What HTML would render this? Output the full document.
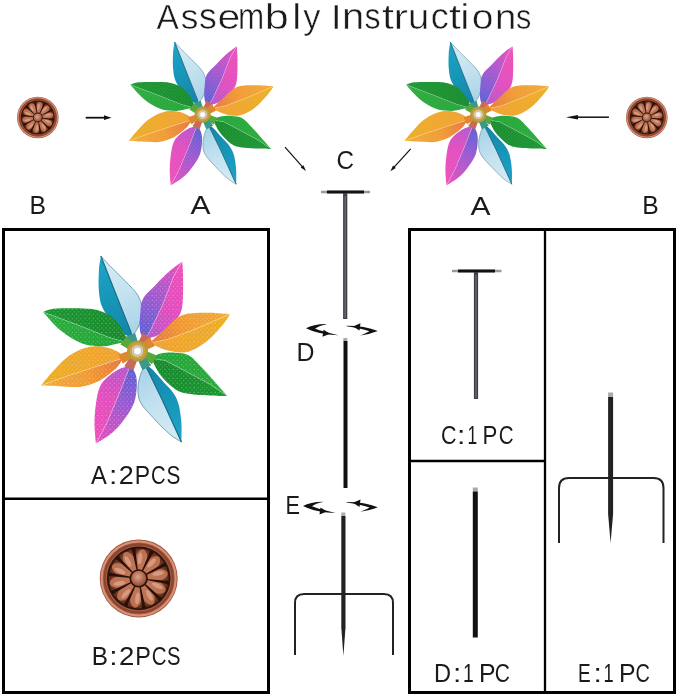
<!DOCTYPE html>
<html><head><meta charset="utf-8"><style>
html,body{margin:0;padding:0;background:#fff;}
svg{display:block;will-change:transform;filter:blur(0.3px);}
</style></head><body>
<svg width="679" height="697" viewBox="0 0 679 697">
<defs>
<linearGradient id="gBlueD" x1="0" y1="0" x2="1" y2="0"><stop offset="0" stop-color="#1486aa"/><stop offset="0.5" stop-color="#1796b8"/><stop offset="1" stop-color="#1ea2c8"/></linearGradient>
<pattern id="spark" width="4.2" height="4.6" patternUnits="userSpaceOnUse"><circle cx="1" cy="1.2" r="0.55" fill="#fff" opacity="0.55"/><circle cx="3.1" cy="3.5" r="0.5" fill="#fff" opacity="0.45"/></pattern>
<linearGradient id="gBlueL" x1="0" y1="0" x2="1" y2="0"><stop offset="0" stop-color="#a8d4ea"/><stop offset="0.5" stop-color="#c6e2f0"/><stop offset="1" stop-color="#d4eaf4"/></linearGradient>
<linearGradient id="gPurp" x1="0" y1="0" x2="1" y2="0"><stop offset="0" stop-color="#5e60d4"/><stop offset="0.45" stop-color="#9a58d0"/><stop offset="1" stop-color="#ea4cbc"/></linearGradient>
<linearGradient id="gMag" x1="0" y1="0" x2="1" y2="0"><stop offset="0" stop-color="#b056cc"/><stop offset="0.4" stop-color="#e04cbe"/><stop offset="1" stop-color="#ee4eb8"/></linearGradient>
<linearGradient id="gOrU" x1="0" y1="0" x2="1" y2="0"><stop offset="0" stop-color="#e8783c"/><stop offset="0.45" stop-color="#f09a32"/><stop offset="1" stop-color="#f2aa34"/></linearGradient>
<linearGradient id="gOrL" x1="0" y1="0" x2="1" y2="0"><stop offset="0" stop-color="#f09a30"/><stop offset="1" stop-color="#ecac22"/></linearGradient>
<linearGradient id="gGrD" x1="0" y1="0" x2="1" y2="0"><stop offset="0" stop-color="#168a2c"/><stop offset="1" stop-color="#1a9630"/></linearGradient>
<linearGradient id="gGrL" x1="0" y1="0" x2="1" y2="0"><stop offset="0" stop-color="#22a436"/><stop offset="1" stop-color="#2aac3c"/></linearGradient>
<radialGradient id="gPet" cx="0.5" cy="0.4" r="0.7"><stop offset="0" stop-color="#e0a080"/><stop offset="1" stop-color="#9a5a40"/></radialGradient>
<radialGradient id="gRosIn" cx="0.5" cy="0.5" r="0.5"><stop offset="0" stop-color="#b86c4c"/><stop offset="0.65" stop-color="#9a5236"/><stop offset="1" stop-color="#5e2a1a"/></radialGradient>
<radialGradient id="gBoss" cx="0.45" cy="0.4" r="0.65"><stop offset="0" stop-color="#e0a488"/><stop offset="1" stop-color="#8a4430"/></radialGradient>

<linearGradient id="blueTop_a" gradientUnits="userSpaceOnUse" x1="131.5" y1="337.3" x2="100.9" y2="256.1"><stop offset="0" stop-color="#1484a8"/><stop offset="0.5" stop-color="#1796b8"/><stop offset="1" stop-color="#1ea4c8"/></linearGradient>
<linearGradient id="blueTop_b" gradientUnits="userSpaceOnUse" x1="131.5" y1="337.3" x2="100.9" y2="256.1"><stop offset="0" stop-color="#a6d2e8"/><stop offset="0.5" stop-color="#c4e2f0"/><stop offset="1" stop-color="#d6ecf6"/></linearGradient>
<linearGradient id="pinkUR_a" gradientUnits="userSpaceOnUse" x1="145.5" y1="338" x2="182.3" y2="261.5"><stop offset="0" stop-color="#5a5ed2"/><stop offset="0.45" stop-color="#9a58d0"/><stop offset="1" stop-color="#ea4cbc"/></linearGradient>
<linearGradient id="pinkUR_b" gradientUnits="userSpaceOnUse" x1="145.5" y1="338" x2="182.3" y2="261.5"><stop offset="0" stop-color="#b056cc"/><stop offset="0.4" stop-color="#e04cbe"/><stop offset="1" stop-color="#ee4eb8"/></linearGradient>
<linearGradient id="orR_a" gradientUnits="userSpaceOnUse" x1="150" y1="343" x2="230.2" y2="314.1"><stop offset="0" stop-color="#e8743c"/><stop offset="0.45" stop-color="#f09a32"/><stop offset="1" stop-color="#f2aa34"/></linearGradient>
<linearGradient id="orR_b" gradientUnits="userSpaceOnUse" x1="150" y1="343" x2="230.2" y2="314.1"><stop offset="0" stop-color="#f0a030"/><stop offset="1" stop-color="#ecae22"/></linearGradient>
<linearGradient id="grLR_a" gradientUnits="userSpaceOnUse" x1="152" y1="358.5" x2="227.4" y2="396.1"><stop offset="0" stop-color="#22a436"/><stop offset="1" stop-color="#2aac3c"/></linearGradient>
<linearGradient id="grLR_b" gradientUnits="userSpaceOnUse" x1="152" y1="358.5" x2="227.4" y2="396.1"><stop offset="0" stop-color="#168a2c"/><stop offset="1" stop-color="#1a9630"/></linearGradient>
<linearGradient id="blueBot_a" gradientUnits="userSpaceOnUse" x1="145.5" y1="365.5" x2="181.4" y2="442"><stop offset="0" stop-color="#1484a8"/><stop offset="0.5" stop-color="#1796b8"/><stop offset="1" stop-color="#1ea4c8"/></linearGradient>
<linearGradient id="blueBot_b" gradientUnits="userSpaceOnUse" x1="145.5" y1="365.5" x2="181.4" y2="442"><stop offset="0" stop-color="#a6d2e8"/><stop offset="0.5" stop-color="#c4e2f0"/><stop offset="1" stop-color="#d6ecf6"/></linearGradient>
<linearGradient id="pinkLL_a" gradientUnits="userSpaceOnUse" x1="130" y1="366" x2="95.9" y2="443.6"><stop offset="0" stop-color="#5a5ed2"/><stop offset="0.45" stop-color="#9a58d0"/><stop offset="1" stop-color="#ea4cbc"/></linearGradient>
<linearGradient id="pinkLL_b" gradientUnits="userSpaceOnUse" x1="130" y1="366" x2="95.9" y2="443.6"><stop offset="0" stop-color="#b056cc"/><stop offset="0.4" stop-color="#e04cbe"/><stop offset="1" stop-color="#ee4eb8"/></linearGradient>
<linearGradient id="orL_a" gradientUnits="userSpaceOnUse" x1="123" y1="358" x2="40.8" y2="385.5"><stop offset="0" stop-color="#e8743c"/><stop offset="0.45" stop-color="#f09a32"/><stop offset="1" stop-color="#f2aa34"/></linearGradient>
<linearGradient id="orL_b" gradientUnits="userSpaceOnUse" x1="123" y1="358" x2="40.8" y2="385.5"><stop offset="0" stop-color="#f0a030"/><stop offset="1" stop-color="#ecae22"/></linearGradient>
<linearGradient id="grUL_a" gradientUnits="userSpaceOnUse" x1="125.5" y1="342" x2="43.1" y2="311.9"><stop offset="0" stop-color="#22a436"/><stop offset="1" stop-color="#2aac3c"/></linearGradient>
<linearGradient id="grUL_b" gradientUnits="userSpaceOnUse" x1="125.5" y1="342" x2="43.1" y2="311.9"><stop offset="0" stop-color="#168a2c"/><stop offset="1" stop-color="#1a9630"/></linearGradient></defs>
<rect width="679" height="697" fill="#fff"/>
<rect x="3.5" y="229.5" width="265" height="463" fill="none" stroke="#000" stroke-width="3"/>
<path d="M3 498.8H268" stroke="#000" stroke-width="2.5"/>
<rect x="409.5" y="229.5" width="265" height="463" fill="none" stroke="#000" stroke-width="3"/>
<path d="M545 229V692" stroke="#000" stroke-width="2.3"/>
<path d="M409 461H545" stroke="#000" stroke-width="2.3"/>
<g id="pw"><path d="M100.9 256.1C100.6 258.5 99.2 264.7 98.9 270.5C98.6 276.3 98.3 284.8 98.9 290.9C99.5 297 99.9 301.9 102.3 307.3C104.7 312.8 109.8 319.3 113.2 323.6C116.6 327.9 119.7 330.9 122.7 333.2C125.8 335.5 130 336.6 131.5 337.3L130.9 331.8 L117.3 297.7 L100.9 256.1Z" fill="url(#blueTop_a)"/>
<path d="M100.9 256.1C102.5 257.8 106.4 262.2 110.5 266.4C114.6 270.6 121 276.6 125.5 281.4C130 286.2 135 290.5 137.7 295C140.4 299.5 141.6 303.6 141.8 308.6C142 313.6 140.5 320.7 139.1 325C137.7 329.3 134.9 332.4 133.6 334.5C132.3 336.6 131.8 336.8 131.5 337.3L130.9 331.8 L117.3 297.7 L100.9 256.1Z" fill="url(#blueTop_b)" stroke="#557f90" stroke-width="0.7"/>
<path d="M100.9 256.1L117.3 297.7 L130.9 331.8 L131.5 337.3" fill="none" stroke="#136e88" stroke-width="1.1"/>
<path d="M181.4 442C181.4 438.9 181.8 429.8 181.4 423.6C181 417.5 180.1 410.2 178.8 405.1C177.5 400 176.1 397.1 173.5 393.2C170.9 389.2 166.5 385.3 163 381.4C159.5 377.4 155 372.1 152.4 369.5C149.8 366.9 148.7 366.7 147.5 366C146.3 365.3 145.8 365.6 145.5 365.5L161.6 398.5 L181.4 442Z" fill="url(#blueBot_a)"/>
<path d="M181.4 442C179.4 440.7 174.2 438.1 169.6 434.1C165 430.2 158.5 423.6 153.7 418.3C148.8 413 143.1 407.6 140.5 402.5C137.9 397.4 137.9 392.6 137.9 388C137.9 383.4 139.5 378.3 140.5 374.8C141.5 371.3 143.2 368.6 144 367C144.8 365.4 145.2 365.8 145.5 365.5L161.6 398.5 L181.4 442Z" fill="url(#blueBot_b)" stroke="#557f90" stroke-width="0.7"/>
<path d="M181.4 442L161.6 398.5 L145.5 365.5" fill="none" stroke="#136e88" stroke-width="1.1"/>
<path d="M182.3 261.5C180.1 263.2 173.2 267.9 168.8 271.8C164.4 275.7 160.1 280.2 155.8 284.7C151.5 289.2 145.5 294.1 142.9 298.9C140.3 303.6 140.8 308.4 140.3 313.2C139.8 317.9 139.5 323.7 139.7 327.4C139.9 331.1 140.5 333.7 141.5 335.5C142.5 337.3 144.8 337.6 145.5 338L149.4 332.5 L162.3 305.4 L173.9 275.7 L182.3 261.5Z" fill="url(#pinkUR_a)"/>
<path d="M182.3 261.5C180.1 263.2 173.2 267.9 168.8 271.8C164.4 275.7 160.1 280.2 155.8 284.7C151.5 289.2 145.5 294.1 142.9 298.9C140.3 303.6 140.8 308.4 140.3 313.2C139.8 317.9 139.5 323.7 139.7 327.4C139.9 331.1 140.5 333.7 141.5 335.5C142.5 337.3 144.8 337.6 145.5 338L149.4 332.5 L162.3 305.4 L173.9 275.7 L182.3 261.5Z" fill="url(#spark)"/>
<path d="M182.3 261.5C182.4 263.6 182.9 269 183 274.4C183.1 279.8 183.2 288 183 293.8C182.8 299.6 182.8 305 181.7 309.3C180.6 313.6 179.1 316.2 176.5 319.6C173.9 323.1 169.6 327.2 166 330C162.4 332.8 158.4 335.2 155 336.5C151.6 337.8 147.1 337.8 145.5 338L149.4 332.5 L162.3 305.4 L173.9 275.7 L182.3 261.5Z" fill="url(#pinkUR_b)"/>
<path d="M182.3 261.5C182.4 263.6 182.9 269 183 274.4C183.1 279.8 183.2 288 183 293.8C182.8 299.6 182.8 305 181.7 309.3C180.6 313.6 179.1 316.2 176.5 319.6C173.9 323.1 169.6 327.2 166 330C162.4 332.8 158.4 335.2 155 336.5C151.6 337.8 147.1 337.8 145.5 338L149.4 332.5 L162.3 305.4 L173.9 275.7 L182.3 261.5Z" fill="url(#spark)"/>
<path d="M182.3 261.5L173.9 275.7 L162.3 305.4 L149.4 332.5 L145.5 338" fill="none" stroke="rgba(255,255,255,0.3)" stroke-width="0.9"/>
<path d="M95.9 443.6C98.6 441.8 107.5 436.8 112.3 432.7C117.1 428.6 120.9 424.1 124.5 419.1C128.1 414.1 132 408.4 134.1 402.7C136.2 397 136.6 389.8 136.8 385C137 380.2 136.4 377.1 135.5 374.1C134.6 371.2 132.3 368.7 131.4 367.3C130.5 365.9 130.2 366.2 130 366L120.5 390.5 L106.8 423.2 L95.9 443.6Z" fill="url(#pinkLL_a)"/>
<path d="M95.9 443.6C98.6 441.8 107.5 436.8 112.3 432.7C117.1 428.6 120.9 424.1 124.5 419.1C128.1 414.1 132 408.4 134.1 402.7C136.2 397 136.6 389.8 136.8 385C137 380.2 136.4 377.1 135.5 374.1C134.6 371.2 132.3 368.7 131.4 367.3C130.5 365.9 130.2 366.2 130 366L120.5 390.5 L106.8 423.2 L95.9 443.6Z" fill="url(#spark)"/>
<path d="M95.9 443.6C95.7 440.2 94.5 429.8 94.5 423.2C94.5 416.6 95 410.2 95.9 404.1C96.8 398 97.7 391.2 100 386.4C102.3 381.6 106.1 378.5 109.5 375.5C112.9 372.5 117.4 370.1 120.5 368.6C123.6 367.1 126.4 366.9 128 366.5C129.6 366.1 129.7 366.1 130 366L120.5 390.5 L106.8 423.2 L95.9 443.6Z" fill="url(#pinkLL_b)"/>
<path d="M95.9 443.6C95.7 440.2 94.5 429.8 94.5 423.2C94.5 416.6 95 410.2 95.9 404.1C96.8 398 97.7 391.2 100 386.4C102.3 381.6 106.1 378.5 109.5 375.5C112.9 372.5 117.4 370.1 120.5 368.6C123.6 367.1 126.4 366.9 128 366.5C129.6 366.1 129.7 366.1 130 366L120.5 390.5 L106.8 423.2 L95.9 443.6Z" fill="url(#spark)"/>
<path d="M95.9 443.6L106.8 423.2 L120.5 390.5 L130 366" fill="none" stroke="rgba(255,255,255,0.3)" stroke-width="0.9"/>
<path d="M230.2 314.1C226.8 313.9 216.9 312.8 210 312.7C203.1 312.6 194.5 312.5 189 313.4C183.5 314.3 180.8 315.6 177 318C173.2 320.4 169.5 324.8 166 328C162.5 331.2 158.7 334.5 156 337C153.3 339.5 151 342 150 343L168 339.3 L196 328.8 L230.2 314.1Z" fill="url(#orR_a)"/>
<path d="M230.2 314.1C226.8 313.9 216.9 312.8 210 312.7C203.1 312.6 194.5 312.5 189 313.4C183.5 314.3 180.8 315.6 177 318C173.2 320.4 169.5 324.8 166 328C162.5 331.2 158.7 334.5 156 337C153.3 339.5 151 342 150 343L168 339.3 L196 328.8 L230.2 314.1Z" fill="url(#spark)"/>
<path d="M230.2 314.1C229.2 315.6 227.4 319.1 224 323.2C220.6 327.3 214.7 334.4 210 338.6C205.3 342.8 200.7 346.1 196 348.4C191.3 350.7 187.1 352.4 182 352.6C176.9 352.8 169.9 351.1 165.2 349.8C160.5 348.5 156.5 346.1 154 345C151.5 343.9 150.7 343.3 150 343L168 339.3 L196 328.8 L230.2 314.1Z" fill="url(#orR_b)"/>
<path d="M230.2 314.1C229.2 315.6 227.4 319.1 224 323.2C220.6 327.3 214.7 334.4 210 338.6C205.3 342.8 200.7 346.1 196 348.4C191.3 350.7 187.1 352.4 182 352.6C176.9 352.8 169.9 351.1 165.2 349.8C160.5 348.5 156.5 346.1 154 345C151.5 343.9 150.7 343.3 150 343L168 339.3 L196 328.8 L230.2 314.1Z" fill="url(#spark)"/>
<path d="M230.2 314.1L196 328.8 L168 339.3 L150 343" fill="none" stroke="rgba(255,255,255,0.3)" stroke-width="0.9"/>
<path d="M40.8 385.5C43.8 385.6 52.5 386 59 386.2C65.5 386.4 73.7 387.6 80 386.9C86.3 386.2 92.1 384 96.8 382C101.5 380 104.5 377.6 108 375C111.5 372.4 115.3 369.4 117.8 366.6C120.3 363.8 122.1 359.4 123 358L120.6 358.9 L94 367.3 L66 376.4 L40.8 385.5Z" fill="url(#orL_a)"/>
<path d="M40.8 385.5C43.8 385.6 52.5 386 59 386.2C65.5 386.4 73.7 387.6 80 386.9C86.3 386.2 92.1 384 96.8 382C101.5 380 104.5 377.6 108 375C111.5 372.4 115.3 369.4 117.8 366.6C120.3 363.8 122.1 359.4 123 358L120.6 358.9 L94 367.3 L66 376.4 L40.8 385.5Z" fill="url(#spark)"/>
<path d="M40.8 385.5C42.7 383.3 47.8 376.8 52 372.2C56.2 367.6 61.3 361.9 66 358.2C70.7 354.5 75.3 351.8 80 349.8C84.7 347.8 89.3 346.7 94 346.3C98.7 345.9 103.8 346.6 108 347.7C112.2 348.8 116.7 350.9 119.2 352.6C121.7 354.3 122.4 357.1 123 358L120.6 358.9 L94 367.3 L66 376.4 L40.8 385.5Z" fill="url(#orL_b)"/>
<path d="M40.8 385.5C42.7 383.3 47.8 376.8 52 372.2C56.2 367.6 61.3 361.9 66 358.2C70.7 354.5 75.3 351.8 80 349.8C84.7 347.8 89.3 346.7 94 346.3C98.7 345.9 103.8 346.6 108 347.7C112.2 348.8 116.7 350.9 119.2 352.6C121.7 354.3 122.4 357.1 123 358L120.6 358.9 L94 367.3 L66 376.4 L40.8 385.5Z" fill="url(#spark)"/>
<path d="M40.8 385.5L66 376.4 L94 367.3 L120.6 358.9 L123 358" fill="none" stroke="rgba(255,255,255,0.3)" stroke-width="0.9"/>
<path d="M227.4 396.1C225.4 393.9 219.7 387.4 215.6 382.8C211.5 378.2 207.4 373.4 203 368.8C198.6 364.2 193.7 358.2 189 355.5C184.3 352.8 179.7 353.1 175 352.7C170.3 352.3 164.5 352.8 161 353.4C157.5 354 155.5 355.6 154 356.5C152.5 357.4 152.3 358.2 152 358.5L165.2 360.4 L186.2 371.6 L210 384.2 L227.4 396.1Z" fill="url(#grLR_a)"/>
<path d="M227.4 396.1C225.4 393.9 219.7 387.4 215.6 382.8C211.5 378.2 207.4 373.4 203 368.8C198.6 364.2 193.7 358.2 189 355.5C184.3 352.8 179.7 353.1 175 352.7C170.3 352.3 164.5 352.8 161 353.4C157.5 354 155.5 355.6 154 356.5C152.5 357.4 152.3 358.2 152 358.5L165.2 360.4 L186.2 371.6 L210 384.2 L227.4 396.1Z" fill="url(#spark)"/>
<path d="M227.4 396.1C224.5 396 215.2 395.6 210 395.4C204.8 395.2 200.7 395.2 196 394.7C191.3 394.2 186 393.9 182 392.6C178 391.3 175.7 389.8 172.2 387C168.7 384.2 163.9 379.5 161 375.8C158.1 372.1 156 367.9 154.5 365C153 362.1 152.4 359.6 152 358.5L165.2 360.4 L186.2 371.6 L210 384.2 L227.4 396.1Z" fill="url(#grLR_b)"/>
<path d="M227.4 396.1C224.5 396 215.2 395.6 210 395.4C204.8 395.2 200.7 395.2 196 394.7C191.3 394.2 186 393.9 182 392.6C178 391.3 175.7 389.8 172.2 387C168.7 384.2 163.9 379.5 161 375.8C158.1 372.1 156 367.9 154.5 365C153 362.1 152.4 359.6 152 358.5L165.2 360.4 L186.2 371.6 L210 384.2 L227.4 396.1Z" fill="url(#spark)"/>
<path d="M227.4 396.1L210 384.2 L186.2 371.6 L165.2 360.4 L152 358.5" fill="none" stroke="rgba(255,255,255,0.3)" stroke-width="0.9"/>
<path d="M43.1 311.9C46.1 315 54.5 325.6 61 330.8C67.5 336.1 75 340.8 82 343.4C89 346 97 346.2 103 346.2C109 346.2 114.2 344.2 118 343.5C121.8 342.8 124.2 342.2 125.5 342L110 337.8 L82 326.6 L43.1 311.9Z" fill="url(#grUL_a)"/>
<path d="M43.1 311.9C46.1 315 54.5 325.6 61 330.8C67.5 336.1 75 340.8 82 343.4C89 346 97 346.2 103 346.2C109 346.2 114.2 344.2 118 343.5C121.8 342.8 124.2 342.2 125.5 342L110 337.8 L82 326.6 L43.1 311.9Z" fill="url(#spark)"/>
<path d="M43.1 311.9C44.9 311.4 47.5 309.3 54 308.7C60.5 308.1 75 308.2 82 308.4C89 308.6 91.3 308.6 96 309.8C100.7 311 106.3 313.1 110 315.4C113.7 317.7 116.1 321 118.4 323.8C120.7 326.6 122.7 329.7 124 332.2C125.3 334.7 126.2 337.4 126.5 339C126.8 340.6 125.7 341.5 125.5 342L110 337.8 L82 326.6 L43.1 311.9Z" fill="url(#grUL_b)"/>
<path d="M43.1 311.9C44.9 311.4 47.5 309.3 54 308.7C60.5 308.1 75 308.2 82 308.4C89 308.6 91.3 308.6 96 309.8C100.7 311 106.3 313.1 110 315.4C113.7 317.7 116.1 321 118.4 323.8C120.7 326.6 122.7 329.7 124 332.2C125.3 334.7 126.2 337.4 126.5 339C126.8 340.6 125.7 341.5 125.5 342L110 337.8 L82 326.6 L43.1 311.9Z" fill="url(#spark)"/>
<path d="M43.1 311.9L82 326.6 L110 337.8 L125.5 342" fill="none" stroke="rgba(255,255,255,0.3)" stroke-width="0.9"/>
<path d="M140.2 349.8L135.1 333L125.9 337Z" fill="#3a9a8a"/>
<path d="M134.8 352.2L135.1 333L125.9 337Z" fill="#3a9a8a"/>
<path d="M140.1 352.6L151.1 338.5L142.6 333.3Z" fill="#c86a5a"/>
<path d="M134.9 349.4L151.1 338.5L142.6 333.3Z" fill="#c86a5a"/>
<path d="M139.1 353.5L154.8 345.9L149.4 337.4Z" fill="#e0862e"/>
<path d="M135.9 348.5L154.8 345.9L149.4 337.4Z" fill="#e0862e"/>
<path d="M136.1 353.7L151.9 364.1L156.5 355.2Z" fill="#5aa83a"/>
<path d="M138.9 348.3L151.9 364.1L156.5 355.2Z" fill="#5aa83a"/>
<path d="M134.9 352.4L142.3 370.1L151.1 365.3Z" fill="#3a9a8a"/>
<path d="M140.1 349.6L142.3 370.1L151.1 365.3Z" fill="#3a9a8a"/>
<path d="M134.8 349.7L124.4 366L133.4 370.5Z" fill="#c86a5a"/>
<path d="M140.2 352.3L124.4 366L133.4 370.5Z" fill="#c86a5a"/>
<path d="M136.2 348.3L118.6 354.6L122.9 363.6Z" fill="#e0862e"/>
<path d="M138.8 353.7L118.6 354.6L122.9 363.6Z" fill="#e0862e"/>
<path d="M139.3 348.6L126.5 336.5L120.5 344.5Z" fill="#5aa83a"/>
<path d="M135.7 353.4L126.5 336.5L120.5 344.5Z" fill="#5aa83a"/>
<circle cx="137.5" cy="351" r="10.5" fill="#b49a3a"/>
<circle cx="137.5" cy="351" r="8" fill="#d0a838"/>
<circle cx="137.5" cy="351" r="6.4" fill="#ddd4c4" stroke="#c89830" stroke-width="1"/>
<circle cx="137.5" cy="351" r="4.3" fill="#f4f2ee" stroke="#a89c8c" stroke-width="0.7"/>
<circle cx="137.5" cy="351" r="2.6" fill="#ffffff"/></g>
<use href="#pw" transform="translate(202.6 114.6) scale(0.765) translate(-137.5 -351)"/>
<use href="#pw" transform="translate(478.3 114.6) scale(0.765) translate(-137.5 -351)"/>
<defs><g id="ros">
<circle r="39" fill="#a85a40"/>
<circle r="37" fill="none" stroke="#d4947a" stroke-width="2"/>
<circle r="34" fill="none" stroke="#8a4430" stroke-width="2.2"/>
<circle r="31.8" fill="#2e140c"/>
<circle r="30" fill="url(#gRosIn)"/>
<g transform="rotate(-82)"><ellipse cx="18.5" cy="0" rx="11" ry="6" fill="#c27858" opacity="0.9"/><ellipse cx="20" cy="-1.5" rx="6" ry="2.2" fill="#e8b49c" opacity="0.6"/></g>
<g transform="rotate(-46)"><ellipse cx="18.5" cy="0" rx="11" ry="6" fill="#c27858" opacity="0.9"/><ellipse cx="20" cy="-1.5" rx="6" ry="2.2" fill="#e8b49c" opacity="0.6"/></g>
<g transform="rotate(-10)"><ellipse cx="18.5" cy="0" rx="11" ry="6" fill="#c27858" opacity="0.9"/><ellipse cx="20" cy="-1.5" rx="6" ry="2.2" fill="#e8b49c" opacity="0.6"/></g>
<g transform="rotate(26)"><ellipse cx="18.5" cy="0" rx="11" ry="6" fill="#c27858" opacity="0.9"/><ellipse cx="20" cy="-1.5" rx="6" ry="2.2" fill="#e8b49c" opacity="0.6"/></g>
<g transform="rotate(62)"><ellipse cx="18.5" cy="0" rx="11" ry="6" fill="#c27858" opacity="0.9"/><ellipse cx="20" cy="-1.5" rx="6" ry="2.2" fill="#e8b49c" opacity="0.6"/></g>
<g transform="rotate(98)"><ellipse cx="18.5" cy="0" rx="11" ry="6" fill="#c27858" opacity="0.9"/><ellipse cx="20" cy="-1.5" rx="6" ry="2.2" fill="#e8b49c" opacity="0.6"/></g>
<g transform="rotate(134)"><ellipse cx="18.5" cy="0" rx="11" ry="6" fill="#c27858" opacity="0.9"/><ellipse cx="20" cy="-1.5" rx="6" ry="2.2" fill="#e8b49c" opacity="0.6"/></g>
<g transform="rotate(170)"><ellipse cx="18.5" cy="0" rx="11" ry="6" fill="#c27858" opacity="0.9"/><ellipse cx="20" cy="-1.5" rx="6" ry="2.2" fill="#e8b49c" opacity="0.6"/></g>
<g transform="rotate(206)"><ellipse cx="18.5" cy="0" rx="11" ry="6" fill="#c27858" opacity="0.9"/><ellipse cx="20" cy="-1.5" rx="6" ry="2.2" fill="#e8b49c" opacity="0.6"/></g>
<g transform="rotate(242)"><ellipse cx="18.5" cy="0" rx="11" ry="6" fill="#c27858" opacity="0.9"/><ellipse cx="20" cy="-1.5" rx="6" ry="2.2" fill="#e8b49c" opacity="0.6"/></g>
<g transform="rotate(-100)"><path d="M8 -0.6L30 -1.7L30 1.7L8 0.6Z" fill="#2a100a"/><circle cx="28.8" cy="0" r="2" fill="#2a100a"/></g>
<g transform="rotate(-64)"><path d="M8 -0.6L30 -1.7L30 1.7L8 0.6Z" fill="#2a100a"/><circle cx="28.8" cy="0" r="2" fill="#2a100a"/></g>
<g transform="rotate(-28)"><path d="M8 -0.6L30 -1.7L30 1.7L8 0.6Z" fill="#2a100a"/><circle cx="28.8" cy="0" r="2" fill="#2a100a"/></g>
<g transform="rotate(8)"><path d="M8 -0.6L30 -1.7L30 1.7L8 0.6Z" fill="#2a100a"/><circle cx="28.8" cy="0" r="2" fill="#2a100a"/></g>
<g transform="rotate(44)"><path d="M8 -0.6L30 -1.7L30 1.7L8 0.6Z" fill="#2a100a"/><circle cx="28.8" cy="0" r="2" fill="#2a100a"/></g>
<g transform="rotate(80)"><path d="M8 -0.6L30 -1.7L30 1.7L8 0.6Z" fill="#2a100a"/><circle cx="28.8" cy="0" r="2" fill="#2a100a"/></g>
<g transform="rotate(116)"><path d="M8 -0.6L30 -1.7L30 1.7L8 0.6Z" fill="#2a100a"/><circle cx="28.8" cy="0" r="2" fill="#2a100a"/></g>
<g transform="rotate(152)"><path d="M8 -0.6L30 -1.7L30 1.7L8 0.6Z" fill="#2a100a"/><circle cx="28.8" cy="0" r="2" fill="#2a100a"/></g>
<g transform="rotate(188)"><path d="M8 -0.6L30 -1.7L30 1.7L8 0.6Z" fill="#2a100a"/><circle cx="28.8" cy="0" r="2" fill="#2a100a"/></g>
<g transform="rotate(224)"><path d="M8 -0.6L30 -1.7L30 1.7L8 0.6Z" fill="#2a100a"/><circle cx="28.8" cy="0" r="2" fill="#2a100a"/></g>
<circle r="9.2" fill="#2a120a"/>
<circle r="7.6" fill="url(#gBoss)"/>
</g></defs>
<g transform="translate(138.7 578.4) scale(1.0000)">
<use href="#ros"/>
</g>
<g transform="translate(37.8 117.5) scale(0.5333)">
<use href="#ros"/>
</g>
<g transform="translate(646.8 117.5) scale(0.5333)">
<use href="#ros"/>
</g>
<path d="M85.7 117.7L105 117.7" stroke="#111" stroke-width="1.8" fill="none"/><path d="M111.5 117.7L104 120.1L104 115.3Z" fill="#111"/>
<path d="M608.9 117.2L577 117.2" stroke="#111" stroke-width="1.5" fill="none"/><path d="M566 117.2L578 114.9L578 119.5Z" fill="#111"/>
<path d="M285 147.2L302.7 167.2" stroke="#111" stroke-width="1.2" fill="none"/><path d="M306 170.9L300.7 167.6L303.4 165.2Z" fill="#111"/>
<path d="M410.7 148.8L393.7 167.6" stroke="#111" stroke-width="1.2" fill="none"/><path d="M390.4 171.3L393.1 165.6L395.8 168.1Z" fill="#111"/>
<path d="M321 192H370" stroke="#9a9a9a" stroke-width="2.6"/>
<path d="M327 192H364" stroke="#111" stroke-width="3.2"/>
<path d="M345.2 193V319" stroke="#3e3e46" stroke-width="4.2"/>
<path d="M345.2 196V318" stroke="#6a6a72" stroke-width="1.4"/>
<path d="M345.3 338V341" stroke="#aaa" stroke-width="4"/>
<path d="M345.5 341V488" stroke="#111" stroke-width="4"/>
<path d="M343.3 512.5V516" stroke="#aaa" stroke-width="4"/>
<path d="M343.4 516V628" stroke="#222" stroke-width="4.2"/>
<path d="M341.3 627.5L343.4 656L345.5 627.5Z" fill="#222"/>
<path d="M295 655V603Q295 594 304 594H384Q393 594 393 603V655" fill="none" stroke="#222" stroke-width="2"/>
<g transform="translate(0 0)"><path d="M326 324Q313 324.2 306 328.3Q318 334.6 338.5 335.2Q321 331.2 315 328.6Q318.5 326 326 324.4Z" fill="#111"/><path d="M330 333.8L323.5 329.8L322.5 336.8Z" fill="#111"/></g>
<g transform="translate(0 0)"><path d="M346.5 325.8Q365 325.8 377.8 331Q369 334.6 360.2 335.4Q367 332.8 369.5 331.2Q360 328.2 346.5 326.2Z" fill="#111"/><path d="M353 326.4L360.5 323.2L359.5 330.6Z" fill="#111"/></g>
<g transform="translate(-3 177.7)"><path d="M326 324Q313 324.2 306 328.3Q318 334.6 338.5 335.2Q321 331.2 315 328.6Q318.5 326 326 324.4Z" fill="#111"/><path d="M330 333.8L323.5 329.8L322.5 336.8Z" fill="#111"/></g>
<g transform="translate(0 176.3)"><path d="M346.5 325.8Q365 325.8 377.8 331Q369 334.6 360.2 335.4Q367 332.8 369.5 331.2Q360 328.2 346.5 326.2Z" fill="#111"/><path d="M353 326.4L360.5 323.2L359.5 330.6Z" fill="#111"/></g>
<path d="M452 271H501.5" stroke="#9a9a9a" stroke-width="2.4"/>
<path d="M458 271H495" stroke="#111" stroke-width="3"/>
<path d="M476 272V399" stroke="#3e3e46" stroke-width="4.2"/>
<path d="M476 275V398" stroke="#6a6a72" stroke-width="1.4"/>
<path d="M475.3 487.5V491.5" stroke="#aaa" stroke-width="5"/>
<path d="M475.3 491.5V637.5" stroke="#111" stroke-width="5"/>
<path d="M610.6 392.5V397" stroke="#aaa" stroke-width="5"/>
<path d="M610.6 397V514" stroke="#222" stroke-width="5"/>
<path d="M608.1 514L610.6 543L613.1 514Z" fill="#222"/>
<path d="M559 543V488Q559 478 569 478H653.5Q663.5 478 663.5 488V543" fill="none" stroke="#222" stroke-width="2"/>
<text transform="translate(156.5 28.5) scale(0.929 1)" font-size="36" font-family="Liberation Sans, sans-serif" fill="#1a1a1a" stroke="#fff" stroke-width="0.5">A</text>
<text transform="translate(180.7 28.5) scale(0.981 1)" font-size="36" font-family="Liberation Sans, sans-serif" fill="#1a1a1a" stroke="#fff" stroke-width="0.5">s</text>
<text transform="translate(199 28.5) scale(0.987 1)" font-size="36" font-family="Liberation Sans, sans-serif" fill="#1a1a1a" stroke="#fff" stroke-width="0.5">s</text>
<text transform="translate(217.5 28.5) scale(1.136 1)" font-size="36" font-family="Liberation Sans, sans-serif" fill="#1a1a1a" stroke="#fff" stroke-width="0.5">e</text>
<text transform="translate(237.9 28.5) scale(0.873 1)" font-size="36" font-family="Liberation Sans, sans-serif" fill="#1a1a1a" stroke="#fff" stroke-width="0.5">m</text>
<text transform="translate(264.7 28.5) scale(1.200 1)" font-size="36" font-family="Liberation Sans, sans-serif" fill="#1a1a1a" stroke="#fff" stroke-width="0.5">b</text>
<text transform="translate(292.3 28.5) scale(1.125 1)" font-size="36" font-family="Liberation Sans, sans-serif" fill="#1a1a1a" stroke="#fff" stroke-width="0.5">l</text>
<text transform="translate(303.2 28.5) scale(0.955 1)" font-size="36" font-family="Liberation Sans, sans-serif" fill="#1a1a1a" stroke="#fff" stroke-width="0.5">y</text>
<text transform="translate(330.8 28.5) scale(1.088 1)" font-size="36" font-family="Liberation Sans, sans-serif" fill="#1a1a1a" stroke="#fff" stroke-width="0.5">I</text>
<text transform="translate(342 28.5) scale(1.111 1)" font-size="36" font-family="Liberation Sans, sans-serif" fill="#1a1a1a" stroke="#fff" stroke-width="0.5">n</text>
<text transform="translate(364.4 28.5) scale(0.892 1)" font-size="36" font-family="Liberation Sans, sans-serif" fill="#1a1a1a" stroke="#fff" stroke-width="0.5">s</text>
<text transform="translate(382 28.5) scale(1.200 1)" font-size="36" font-family="Liberation Sans, sans-serif" fill="#1a1a1a" stroke="#fff" stroke-width="0.5">t</text>
<text transform="translate(393.5 28.5) scale(1.200 1)" font-size="36" font-family="Liberation Sans, sans-serif" fill="#1a1a1a" stroke="#fff" stroke-width="0.5">r</text>
<text transform="translate(407.9 28.5) scale(1.059 1)" font-size="36" font-family="Liberation Sans, sans-serif" fill="#1a1a1a" stroke="#fff" stroke-width="0.5">u</text>
<text transform="translate(430.7 28.5) scale(1.000 1)" font-size="36" font-family="Liberation Sans, sans-serif" fill="#1a1a1a" stroke="#fff" stroke-width="0.5">c</text>
<text transform="translate(448.9 28.5) scale(1.200 1)" font-size="36" font-family="Liberation Sans, sans-serif" fill="#1a1a1a" stroke="#fff" stroke-width="0.5">t</text>
<text transform="translate(460.3 28.5) scale(1.156 1)" font-size="36" font-family="Liberation Sans, sans-serif" fill="#1a1a1a" stroke="#fff" stroke-width="0.5">i</text>
<text transform="translate(471.8 28.5) scale(1.088 1)" font-size="36" font-family="Liberation Sans, sans-serif" fill="#1a1a1a" stroke="#fff" stroke-width="0.5">o</text>
<text transform="translate(495.1 28.5) scale(1.065 1)" font-size="36" font-family="Liberation Sans, sans-serif" fill="#1a1a1a" stroke="#fff" stroke-width="0.5">n</text>
<text transform="translate(515.9 28.5) scale(0.850 1)" font-size="36" font-family="Liberation Sans, sans-serif" fill="#1a1a1a" stroke="#fff" stroke-width="0.5">s</text>
<text x="29.5" y="213.7" font-size="25.5" font-family="Liberation Sans, sans-serif" fill="#1a1a1a" textLength="16.5" lengthAdjust="spacingAndGlyphs" text-anchor="start">B</text>
<text x="190.5" y="214" font-size="25.5" font-family="Liberation Sans, sans-serif" fill="#1a1a1a" textLength="20" lengthAdjust="spacingAndGlyphs" text-anchor="start">A</text>
<text x="470.5" y="214.5" font-size="25.5" font-family="Liberation Sans, sans-serif" fill="#1a1a1a" textLength="20" lengthAdjust="spacingAndGlyphs" text-anchor="start">A</text>
<text x="642.3" y="214" font-size="25.5" font-family="Liberation Sans, sans-serif" fill="#1a1a1a" textLength="16.5" lengthAdjust="spacingAndGlyphs" text-anchor="start">B</text>
<text x="336.5" y="168.8" font-size="26" font-family="Liberation Sans, sans-serif" fill="#1a1a1a" textLength="17.5" lengthAdjust="spacingAndGlyphs" text-anchor="start">C</text>
<text x="296.5" y="360.6" font-size="25.5" font-family="Liberation Sans, sans-serif" fill="#1a1a1a" textLength="18" lengthAdjust="spacingAndGlyphs" text-anchor="start">D</text>
<text x="285.5" y="514.3" font-size="26" font-family="Liberation Sans, sans-serif" fill="#1a1a1a" textLength="14.5" lengthAdjust="spacingAndGlyphs" text-anchor="start">E</text>
<text transform="translate(91 484.4) scale(0.950 1)" font-size="25" font-family="Liberation Sans, sans-serif" fill="#1a1a1a">A</text>
<text transform="translate(109.1 484.4) scale(1.200 1)" font-size="25" font-family="Liberation Sans, sans-serif" fill="#1a1a1a">:</text>
<text transform="translate(118.8 484.4) scale(1.080 1)" font-size="25" font-family="Liberation Sans, sans-serif" fill="#1a1a1a">2</text>
<text transform="translate(134.7 484.4) scale(0.920 1)" font-size="25" font-family="Liberation Sans, sans-serif" fill="#1a1a1a">P</text>
<text transform="translate(151 484.4) scale(0.808 1)" font-size="25" font-family="Liberation Sans, sans-serif" fill="#1a1a1a">C</text>
<text transform="translate(166.4 484.4) scale(0.831 1)" font-size="25" font-family="Liberation Sans, sans-serif" fill="#1a1a1a">S</text>
<text transform="translate(91.7 665.4) scale(0.973 1)" font-size="25" font-family="Liberation Sans, sans-serif" fill="#1a1a1a">B</text>
<text transform="translate(109.2 665.4) scale(1.200 1)" font-size="25" font-family="Liberation Sans, sans-serif" fill="#1a1a1a">:</text>
<text transform="translate(119 665.4) scale(1.106 1)" font-size="25" font-family="Liberation Sans, sans-serif" fill="#1a1a1a">2</text>
<text transform="translate(135.2 665.4) scale(0.935 1)" font-size="25" font-family="Liberation Sans, sans-serif" fill="#1a1a1a">P</text>
<text transform="translate(151.8 665.4) scale(0.821 1)" font-size="25" font-family="Liberation Sans, sans-serif" fill="#1a1a1a">C</text>
<text transform="translate(167 665.4) scale(0.810 1)" font-size="25" font-family="Liberation Sans, sans-serif" fill="#1a1a1a">S</text>
<text transform="translate(441 443.5) scale(0.859 1)" font-size="25" font-family="Liberation Sans, sans-serif" fill="#1a1a1a">C</text>
<text transform="translate(457.1 443.5) scale(1.200 1)" font-size="25" font-family="Liberation Sans, sans-serif" fill="#1a1a1a">:</text>
<text transform="translate(467.6 443.5) scale(0.700 1)" font-size="25" font-family="Liberation Sans, sans-serif" fill="#1a1a1a">1</text>
<text transform="translate(482.6 443.5) scale(0.890 1)" font-size="25" font-family="Liberation Sans, sans-serif" fill="#1a1a1a">P</text>
<text transform="translate(498.8 443.5) scale(0.821 1)" font-size="25" font-family="Liberation Sans, sans-serif" fill="#1a1a1a">C</text>
<text transform="translate(434 682) scale(0.946 1)" font-size="25" font-family="Liberation Sans, sans-serif" fill="#1a1a1a">D</text>
<text transform="translate(452.9 682) scale(1.200 1)" font-size="25" font-family="Liberation Sans, sans-serif" fill="#1a1a1a">:</text>
<text transform="translate(463 682) scale(0.775 1)" font-size="25" font-family="Liberation Sans, sans-serif" fill="#1a1a1a">1</text>
<text transform="translate(478.9 682) scale(0.995 1)" font-size="25" font-family="Liberation Sans, sans-serif" fill="#1a1a1a">P</text>
<text transform="translate(494.7 682) scale(0.840 1)" font-size="25" font-family="Liberation Sans, sans-serif" fill="#1a1a1a">C</text>
<text transform="translate(578.1 682) scale(0.761 1)" font-size="25" font-family="Liberation Sans, sans-serif" fill="#1a1a1a">E</text>
<text transform="translate(593.6 682) scale(1.200 1)" font-size="25" font-family="Liberation Sans, sans-serif" fill="#1a1a1a">:</text>
<text transform="translate(603.6 682) scale(0.729 1)" font-size="25" font-family="Liberation Sans, sans-serif" fill="#1a1a1a">1</text>
<text transform="translate(618.9 682) scale(0.995 1)" font-size="25" font-family="Liberation Sans, sans-serif" fill="#1a1a1a">P</text>
<text transform="translate(635.4 682) scale(0.796 1)" font-size="25" font-family="Liberation Sans, sans-serif" fill="#1a1a1a">C</text>
</svg>
</body></html>
